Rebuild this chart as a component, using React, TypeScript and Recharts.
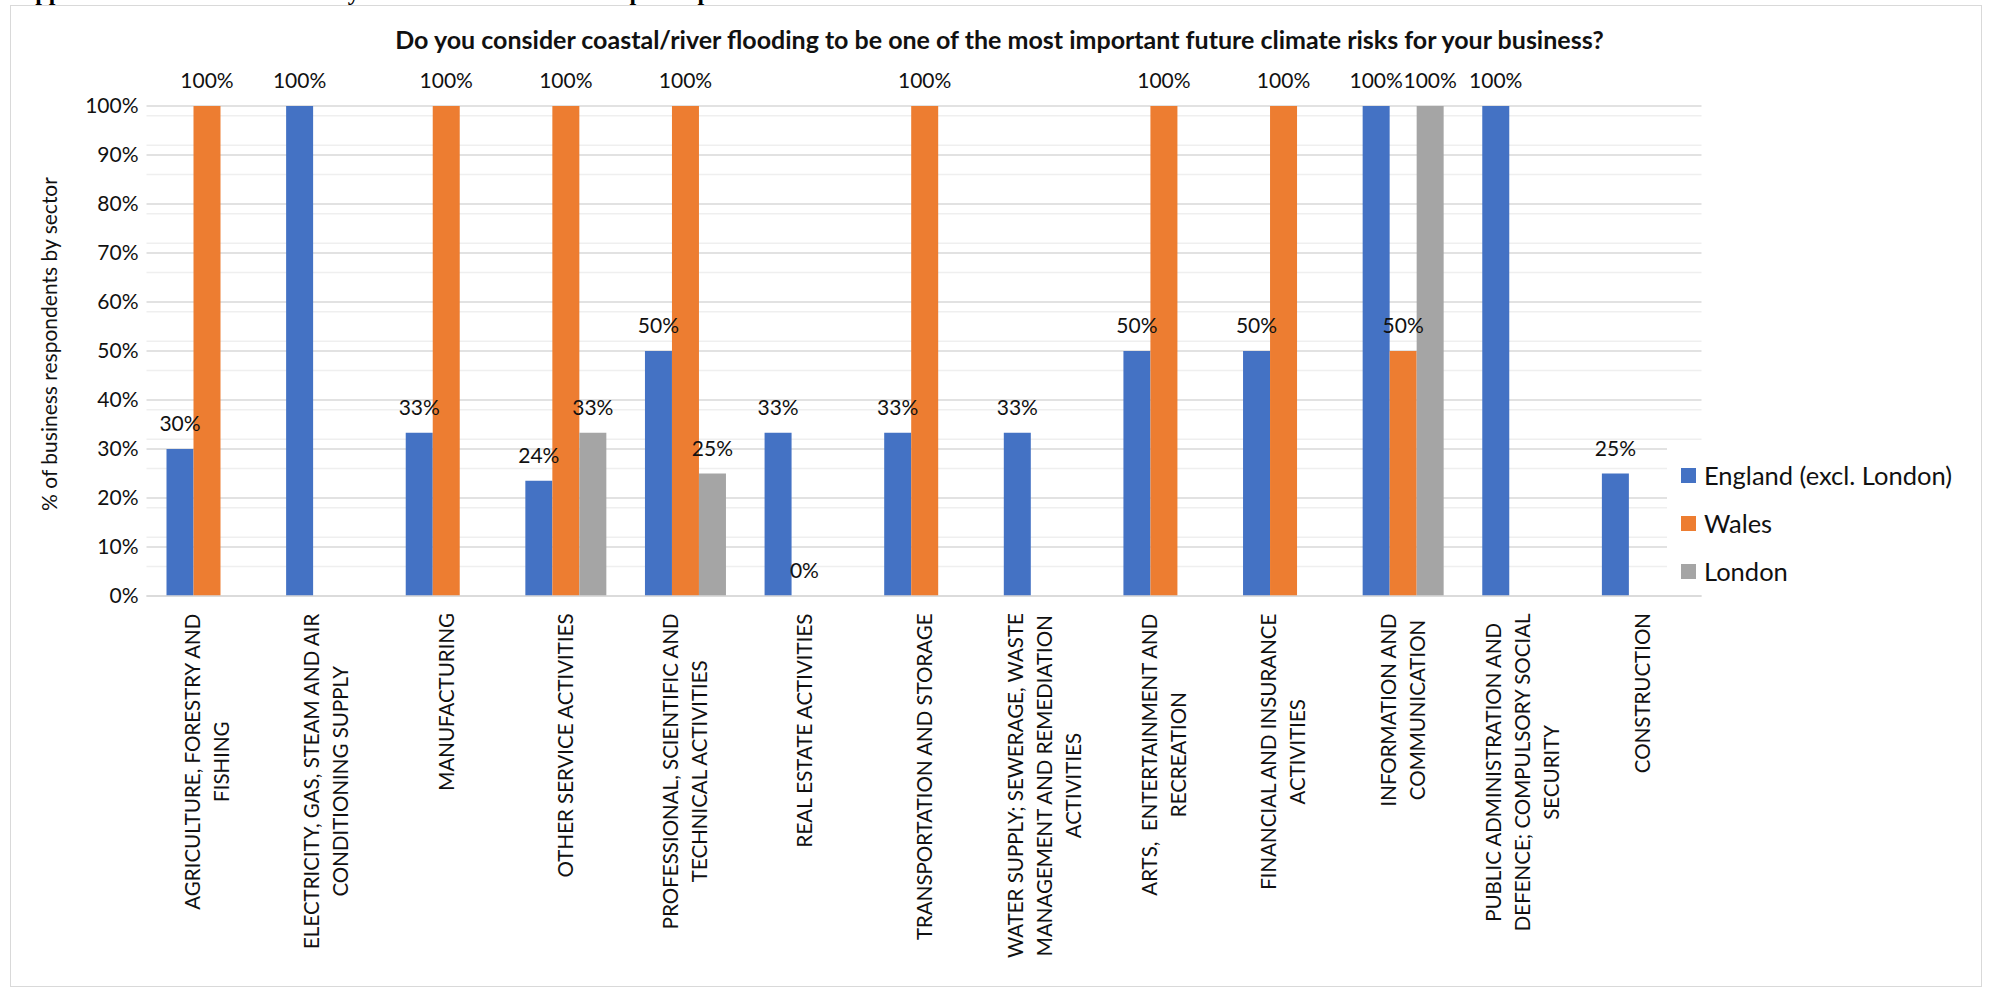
import React from 'react';
import { BarChart, Bar, XAxis, YAxis, CartesianGrid, LabelList, ReferenceDot } from 'recharts';

const categories = [
  'AGRICULTURE, FORESTRY AND FISHING',
  'ELECTRICITY, GAS, STEAM AND AIR CONDITIONING SUPPLY',
  'MANUFACTURING',
  'OTHER SERVICE ACTIVITIES',
  'PROFESSIONAL, SCIENTIFIC AND TECHNICAL ACTIVITIES',
  'REAL ESTATE ACTIVITIES',
  'TRANSPORTATION AND STORAGE',
  'WATER SUPPLY; SEWERAGE, WASTE MANAGEMENT AND REMEDIATION ACTIVITIES',
  'ARTS,  ENTERTAINMENT AND RECREATION',
  'FINANCIAL AND INSURANCE ACTIVITIES',
  'INFORMATION AND COMMUNICATION',
  'PUBLIC ADMINISTRATION AND DEFENCE; COMPULSORY SOCIAL SECURITY',
  'CONSTRUCTION',
];

const categoryLines = [
  ['AGRICULTURE, FORESTRY AND', 'FISHING'],
  ['ELECTRICITY, GAS, STEAM AND AIR', 'CONDITIONING SUPPLY'],
  ['MANUFACTURING'],
  ['OTHER SERVICE ACTIVITIES'],
  ['PROFESSIONAL, SCIENTIFIC AND', 'TECHNICAL ACTIVITIES'],
  ['REAL ESTATE ACTIVITIES'],
  ['TRANSPORTATION AND STORAGE'],
  ['WATER SUPPLY; SEWERAGE, WASTE', 'MANAGEMENT AND REMEDIATION', 'ACTIVITIES'],
  ['ARTS,  ENTERTAINMENT AND', 'RECREATION'],
  ['FINANCIAL AND INSURANCE', 'ACTIVITIES'],
  ['INFORMATION AND', 'COMMUNICATION'],
  ['PUBLIC ADMINISTRATION AND', 'DEFENCE; COMPULSORY SOCIAL', 'SECURITY'],
  ['CONSTRUCTION'],
];

const englandValues = [30, 100, 33.3, 23.5, 50, 33.3, 33.3, 33.3, 50, 50, 100, 100, 25];
const walesValues = [100, null, 100, 100, 100, 0, 100, null, 100, 100, 50, null, null];
const londonValues = [null, null, null, 33.3, 25, null, null, null, null, null, 100, null, null];

const seriesNames = ['England (excl. London)', 'Wales', 'London'];
const seriesKeys = ['england', 'wales', 'london'];
const seriesValues = [englandValues, walesValues, londonValues];
const seriesColors = ['#4472C4', '#ED7D31', '#A5A5A5'];

const yTicks = [0, 10, 20, 30, 40, 50, 60, 70, 80, 90, 100];
const minorValues = [2, 4, 6, 8, 12, 14, 16, 18, 22, 24, 26, 28, 32, 34, 36, 38, 42, 44, 46, 48, 52, 54, 56, 58, 62, 64, 66, 68, 72, 74, 76, 78, 82, 84, 86, 88, 92, 94, 96, 98];

const chartTitle = 'Do you consider coastal/river flooding to be one of the most important future climate risks for your business?';
const yAxisTitle = '% of business respondents by sector';
const pageHeading = 'Appendix 2: Flood risk results by sector for all the business participants';

const data = categories.map((c, i) => ({
  category: c,
  england: englandValues[i],
  wales: walesValues[i],
  london: londonValues[i],
}));

// zero values (bars of no height) whose labels are still shown
const zeroPoints: { category: string; series: number }[] = [];
seriesValues.forEach((vals, s) =>
  vals.forEach((v, i) => {
    if (v === 0) zeroPoints.push({ category: categories[i], series: s });
  })
);

const FONT = 'Lato, "Open Sans", sans-serif';
const X_FONT_SIZE = 20.5;
const X_LINE_GAP = 29;
const BAR_WIDTH_APPROX = 26.5;

let measureCtx: CanvasRenderingContext2D | null = null;
function textWidth(s: string, font: string): number {
  if (!measureCtx && typeof document !== 'undefined') {
    measureCtx = document.createElement('canvas').getContext('2d');
  }
  if (!measureCtx) return s.length * 12;
  measureCtx.font = font;
  return measureCtx.measureText(s).width;
}

const CategoryTick = (props: any) => {
  const { x, y, payload } = props;
  let idx = categories.indexOf(payload.value);
  if (idx < 0) idx = payload.index ?? 0;
  const lines = categoryLines[idx] || [String(payload.value)];
  const font = `${X_FONT_SIZE}px Lato`;
  const maxW = Math.max(...lines.map((l) => textWidth(l, font)));
  const n = lines.length;
  return (
    <g>
      {lines.map((l, i) => (
        <text
          key={i}
          transform={`translate(${x + (i - (n - 1) / 2) * X_LINE_GAP}, ${y + maxW / 2}) rotate(-90)`}
          textAnchor="middle"
          dominantBaseline="central"
          fontFamily={FONT}
          fontSize={X_FONT_SIZE}
          fill="#111"
          style={{ whiteSpace: 'pre' }}
        >
          {l}
        </text>
      ))}
    </g>
  );
};

const pct = (v: any) => (v === null || v === undefined || Number(v) === 0 ? '' : `${Math.round(Number(v))}%`);

const LABEL_SIZE = 21;
const labelStyle = { fontFamily: FONT, fontSize: LABEL_SIZE, fill: '#111' };

export default function App() {
  return (
    <div style={{ position: 'absolute', left: 0, top: 0, width: 1995, height: 989, overflow: 'hidden', background: '#fff' }}>
      <div
        style={{
          position: 'absolute',
          left: 10,
          top: 5,
          width: 1970,
          height: 980,
          border: '1.5px solid #d9d9d9',
        }}
      />
      <div style={{ position: 'absolute', left: 0, top: 0 }}>
        <BarChart
          width={1995}
          height={989}
          data={data}
          margin={{ top: 106, right: 293.5, bottom: 13, left: 86.5 }}
          barCategoryGap={20}
          barGap={0}
        >
          <CartesianGrid vertical={false} stroke="#efefef" strokeWidth={1.5} horizontalValues={minorValues} />
          <CartesianGrid vertical={false} stroke="#d9d9d9" strokeWidth={1.5} />
          <XAxis
            dataKey="category"
            interval={0}
            height={380}
            tickSize={0}
            tickMargin={17}
            axisLine={{ stroke: '#d9d9d9', strokeWidth: 1.5 }}
            tickLine={false}
            tick={<CategoryTick />}
          />
          <YAxis
            width={60}
            domain={[0, 100]}
            ticks={yTicks}
            tickFormatter={(v: number) => `${v}%`}
            axisLine={false}
            tickLine={false}
            tickSize={0}
            tickMargin={8}
            tick={{ fontFamily: FONT, fontSize: LABEL_SIZE, fill: '#111' }}
          />
          {seriesKeys.map((k, s) => (
            <Bar key={k} dataKey={k} name={seriesNames[s]} fill={seriesColors[s]} isAnimationActive={false}>
              <LabelList dataKey={k} position="top" offset={18} formatter={pct} style={labelStyle} />
            </Bar>
          ))}
          {zeroPoints.map((p) => (
            <ReferenceDot
              key={`${p.category}-${p.series}`}
              x={p.category}
              y={0}
              r={0}
              fill="none"
              stroke="none"
              ifOverflow="visible"
              label={{
                value: '0%',
                position: 'top',
                offset: 18,
                dx: (p.series - 1) * BAR_WIDTH_APPROX,
                style: labelStyle,
              }}
            />
          ))}
        </BarChart>
      </div>
      <svg style={{ position: 'absolute', left: 0, top: 0, pointerEvents: 'none' }} width={1995} height={989}>
        <text x={18} y={0} fontFamily='"Liberation Serif", serif' fontWeight="bold" fontSize={24} fill="#000">
          {pageHeading}
        </text>
        <text x={999.5} y={49} textAnchor="middle" fontFamily={FONT} fontWeight="bold" fontSize={25} fill="#111">
          {chartTitle}
        </text>
        <text
          transform="translate(48, 344) rotate(-90)"
          textAnchor="middle"
          dominantBaseline="central"
          fontFamily={FONT}
          fontSize={21}
          fill="#111"
        >
          {yAxisTitle}
        </text>
      </svg>
      <div style={{ position: 'absolute', left: 1667, top: 440, width: 300, height: 150, background: '#fff' }} />
      <div style={{ position: 'absolute', left: 1681, top: 451 }}>
        {seriesNames.map((n, i) => (
          <div key={n} style={{ display: 'flex', alignItems: 'center', height: 48 }}>
            <span style={{ display: 'inline-block', width: 15, height: 15, background: seriesColors[i], marginRight: 8 }} />
            <span style={{ fontFamily: FONT, fontSize: 25.5, color: '#111', whiteSpace: 'nowrap' }}>{n}</span>
          </div>
        ))}
      </div>
    </div>
  );
}
